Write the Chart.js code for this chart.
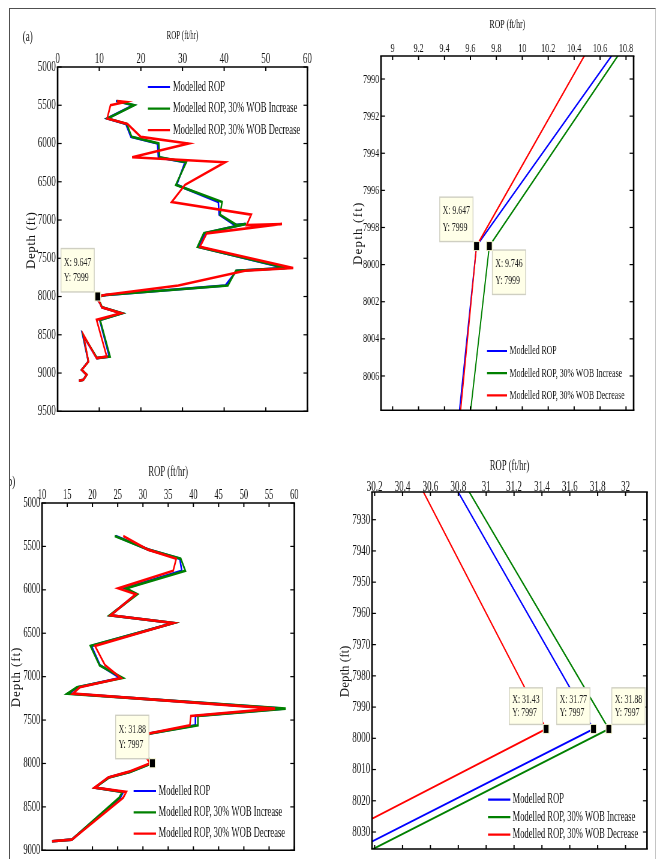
<!DOCTYPE html>
<html lang="en">

<head>
  <meta charset="UTF-8">
  <meta name="viewport" content="width=device-width, initial-scale=1.0">
  <title>Modelled ROP vs depth - WOB sensitivity</title>
  <script src="https://cdn.jsdelivr.net/npm/chart.js@4.4.1/dist/chart.umd.min.js"></script>
  <style>
    html, body { margin: 0; padding: 0; background: #fff; }
    body { width: 657px; height: 859px; position: relative; overflow: hidden; }
    #frame {
      position: absolute; left: 9px; top: 8px; width: 645px; height: 860px;
      border-top: 1px solid #505050; border-left: 1px solid #505050; border-right: 1px solid #c4c4c4;
      overflow: hidden;
    }
    /* the original figure is squeezed sideways, so everything is laid out wide and compressed */
    #wide {
      position: absolute; left: -10px; top: -9px; width: 1095px; height: 859px;
      transform: scaleX(0.6); transform-origin: 0 0;
    }
    #wide canvas { position: absolute; }
    .tag { position: absolute; font: 15px/15px 'Liberation Serif', 'Times New Roman', serif; color: #111; white-space: nowrap; }
  </style>
</head>

<body>
  <div id="frame">
    <div id="wide">
      <span class="tag" style="left:37.8px; top:29px">(a)</span>
      <span class="tag" style="left:8px; top:473.5px">(b)</span>
    </div>
  </div>

  <script>
    const SX = 0.6;
    const FONT = "'Liberation Serif', 'Times New Roman', serif";
    const INK = '#111';

    const seriesLabels = ['Modelled ROP', 'Modelled ROP, 30% WOB Increase', 'Modelled ROP, 30% WOB Decrease'];
    const seriesColors = ['#0000ff', '#008000', '#ff0000'];

    // case (a): depth (ft) and ROP (ft/hr)
    const depthA = [5444, 5457, 5500, 5673, 5745, 5913, 6000, 6180, 6245, 6540, 6765, 6930, 7066, 7053, 7174, 7349, 7628, 7662, 7855, 7979, 7999, 8019, 8090, 8140, 8218, 8305, 8784, 8805, 8500, 8849, 8958, 9023, 9088, 9101];
    const ropA = [14.0, 15.0, 18.2, 11.9, 16.4, 17.6, 24.0, 24.2, 30.6, 28.6, 38.6, 38.8, 42.6, 45.0, 35.4, 33.8, 54.6, 43.0, 40.3, 11.68, 9.647, 9.35, 10.2, 10.6, 15.4, 10.1, 12.4, 9.4, 6.0, 7.37, 5.77, 6.97, 6.16, 5.12];
    const ropIncA = [14.2, 15.2, 18.4, 12.0, 16.6, 17.8, 24.3, 24.5, 30.9, 28.4, 39.5, 39.0, 43.0, 45.3, 35.1, 33.6, 55.0, 42.8, 40.9, 11.68, 9.746, 9.42, 10.3, 10.7, 15.5, 10.2, 12.6, 9.5, 6.1, 7.4, 5.8, 7.0, 6.2, 5.15];
    const ropDecA = [14.3, 16.3, 12.7, 11.9, 16.8, 20.0, 31.4, 17.9, 40.2, 30.6, 27.4, 46.5, 45.4, 53.9, 35.8, 34.2, 56.6, 45.0, 29.0, 11.27, 9.647, 9.37, 10.2, 10.6, 15.2, 9.35, 11.8, 9.35, 6.2, 7.4, 5.8, 7.0, 6.2, 5.12];

    // case (b)
    const depthB = [5380, 5537, 5641, 5780, 5983, 6051, 6293, 6382, 6647, 6869, 7015, 7122, 7195, 7368, 7452, 7560, 7656, 7897, 7997, 8097, 8162, 8278, 8328, 8393, 8877, 8896];
    const ropB = [24.6, 31.1, 37.3, 37.7, 26.4, 28.7, 23.5, 36.0, 19.8, 21.5, 25.5, 17.1, 15.2, 57.6, 40.4, 40.4, 31.1, 30.49, 31.77, 27.36, 23.2, 20.5, 26.1, 25.5, 15.9, 12.0];
    const ropIncB = [24.4, 31.1, 37.5, 38.4, 26.6, 28.9, 23.4, 36.1, 19.6, 21.4, 26.0, 16.9, 15.0, 58.3, 40.9, 40.9, 31.2, 30.56, 31.88, 27.48, 23.3, 20.5, 25.9, 25.3, 15.9, 12.0];
    const ropDecB = [26.1, 31.0, 36.6, 36.0, 25.1, 28.6, 23.6, 36.0, 20.5, 22.5, 25.6, 17.5, 16.1, 56.2, 39.5, 39.3, 31.0, 30.27, 31.43, 27.09, 23.1, 20.4, 26.7, 26.1, 15.9, 12.0];

    // tick values
    const ropTicksA = [0, 10, 20, 30, 40, 50, 60];
    const depthTicksA = [5000, 5500, 6000, 6500, 7000, 7500, 8000, 8500, 9000, 9500];
    const ropTicksAz = [9, 9.2, 9.4, 9.6, 9.8, 10, 10.2, 10.4, 10.6, 10.8];
    const depthTicksAz = [7990, 7992, 7994, 7996, 7998, 8000, 8002, 8004, 8006];
    const ropTicksB = [10, 15, 20, 25, 30, 35, 40, 45, 50, 55, 60];
    const depthTicksB = [5000, 5500, 6000, 6500, 7000, 7500, 8000, 8500, 9000];
    const ropTicksBz = [30.2, 30.4, 30.6, 30.8, 31, 31.2, 31.4, 31.6, 31.8, 32];
    const depthTicksBz = [7930, 7940, 7950, 7960, 7970, 7980, 7990, 8000, 8010, 8020, 8030];

    // data tips
    const tipRopA = [9.647], tipDepthA = [7999];
    const tipRopAz = [9.647, 9.746], tipDepthAz = [7999, 7999];
    const tipRopB = [31.88], tipDepthB = [7997];
    const tipRopBz = [31.43, 31.77, 31.88], tipDepthBz = [7997, 7997, 7997];

    // layout is in page pixels (box = plot area left, top, right, bottom)
    const panels = [
      {
        name: 'a', box: [57.7, 66.7, 307.5, 411], xRange: [0, 60], yRange: [5000, 9500],
        depth: depthA, rop: [ropA, ropIncA, ropDecA], xTicks: ropTicksA, yTicks: depthTicksA,
        tipRop: tipRopA, tipDepth: tipDepthA, tipSide: ['ul'], tipGap: 15, tipPadY: 6.7,
        lineWidth: 2.6, tickSize: 15, tickPad: -0.6, titleSize: 11.5, titleY: 36,
        yTitle: { x: 31.5, y: 240, spacing: 0.6 },
        legend: { x: 148, y: 86.7, gap: 21.6, size: 14.4, len: 22, dx: 25 }
      },
      {
        name: 'az', box: [380.7, 55.7, 633.3, 410], xRange: [8.9105, 10.8586], yRange: [7988.76, 8007.85],
        depth: depthA, rop: [ropA, ropIncA, ropDecA], xTicks: ropTicksAz, yTicks: depthTicksAz,
        tipRop: tipRopAz, tipDepth: tipDepthAz, tipSide: ['ul', 'dr'], tipGap: 17, tipPadY: 5.2,
        lineWidth: 2, tickSize: 13.5, tickPad: -0.7, titleSize: 13, titleY: 24,
        yTitle: { x: 358.3, y: 233, spacing: 1.2 },
        legend: { x: 486.7, y: 350.7, gap: 22.2, size: 13, len: 20, dx: 22.6 }
      },
      {
        name: 'b', box: [41.7, 502.7, 294, 850], xRange: [10, 60], yRange: [5000, 9000],
        depth: depthB, rop: [ropB, ropIncB, ropDecB], xTicks: ropTicksB, yTicks: depthTicksB,
        tipRop: tipRopB, tipDepth: tipDepthB, tipSide: ['ul'], tipGap: 15, tipPadY: 6.7,
        lineWidth: 2.6, tickSize: 14, tickPad: -0.7, titleSize: 14.4, titleY: 471.7,
        yTitle: { x: 16, y: 676.7, spacing: 0.9 },
        legend: { x: 133.3, y: 790.7, gap: 21.3, size: 14.3, len: 22.4, dx: 25 }
      },
      {
        name: 'bz', box: [371.7, 492.3, 646.7, 849.3], xRange: [30.181, 32.154], yRange: [7921.13, 8035.44],
        depth: depthB, rop: [ropB, ropIncB, ropDecB], xTicks: ropTicksBz, yTicks: depthTicksBz,
        tipRop: tipRopBz, tipDepth: tipDepthBz, tipSide: ['ul', 'ul', 'ur'], tipGap: 13.3, tipPadY: 5,
        lineWidth: 2, tickSize: 15, tickPad: -4, titleSize: 14.4, titleY: 466.7,
        yTitle: { x: 345, y: 671.7, spacing: 0 },
        legend: { x: 487.7, y: 800, gap: 17.5, size: 14.2, len: 22.3, dx: 24.6 }
      }
    ];

    const fmt = v => String(Math.round(v * 1000) / 1000);

    function seg(ctx, x1, y1, x2, y2) {
      ctx.beginPath();
      ctx.moveTo(x1, y1);
      ctx.lineTo(x2, y2);
      ctx.stroke();
    }

    // axes box with inward ticks, legend, y label and data tips, matlab style
    function matlabLook(p, left, top) {
      const cx = x => (x - left) / SX;
      const cy = y => y - top;
      return {
        id: 'matlabLook',
        afterDatasetsDraw(chart) {
          const { ctx, chartArea: a, scales: { x, y } } = chart;
          ctx.save();
          ctx.strokeStyle = '#000';
          ctx.lineWidth = 1.2 / SX;
          p.xTicks.forEach(v => {
            const px = x.getPixelForValue(v);
            seg(ctx, px, a.top, px, a.top + 4);
            seg(ctx, px, a.bottom, px, a.bottom - 4);
          });
          ctx.lineWidth = 1.2;
          p.yTicks.forEach(v => {
            const py = y.getPixelForValue(v);
            seg(ctx, a.left, py, a.left + 4 / SX, py);
            seg(ctx, a.right, py, a.right - 4 / SX, py);
          });
          ctx.lineWidth = 1.6;
          seg(ctx, a.left - 1.4, a.top, a.right + 1.4, a.top);
          seg(ctx, a.left - 1.4, a.bottom, a.right + 1.4, a.bottom);
          ctx.lineWidth = 1.6 / SX;
          seg(ctx, a.left, a.top, a.left, a.bottom);
          seg(ctx, a.right, a.top, a.right, a.bottom);

          // legend
          const lg = p.legend;
          ctx.font = lg.size + 'px ' + FONT;
          ctx.textAlign = 'left';
          ctx.textBaseline = 'middle';
          seriesLabels.forEach((lab, k) => {
            const yy = cy(lg.y + k * lg.gap);
            ctx.strokeStyle = seriesColors[k];
            ctx.lineWidth = 2.2;
            seg(ctx, cx(lg.x), yy, cx(lg.x + lg.len), yy);
            ctx.fillStyle = INK;
            ctx.fillText(lab, cx(lg.x + lg.dx), yy);
          });

          // data tips
          ctx.font = '13px ' + FONT;
          p.tipRop.forEach((r, i) => {
            const d = p.tipDepth[i];
            const mx = x.getPixelForValue(r), my = y.getPixelForValue(d);
            const lines = ['X: ' + r, 'Y: ' + d];
            const w = Math.max(...lines.map(t => ctx.measureText(t).width)) + 10;
            const h = 2 * p.tipGap + 2 * p.tipPadY;
            const side = p.tipSide[i];
            const bx = side === 'ul' ? mx - 3.5 / SX - w : mx + 3 / SX;
            const by = side === 'dr' ? my + 4 : my - 4.5 - h;
            ctx.fillStyle = '#ffffe8';
            ctx.fillRect(bx, by, w, h);
            ctx.strokeStyle = '#cfcfc2';
            ctx.lineWidth = 1.4;
            ctx.strokeRect(bx, by, w, h);
            ctx.fillStyle = '#222';
            lines.forEach((t, j) => ctx.fillText(t, bx + 5, by + p.tipPadY + p.tipGap * (j + 0.5)));
            ctx.fillStyle = '#f0f0cc';
            ctx.fillRect(mx - 5.5, my - 5, 11, 10);
            ctx.fillStyle = '#000';
            ctx.fillRect(mx - 4, my - 4, 8, 8);
          });

          // rotated depth label, kept at full glyph height
          ctx.translate(cx(p.yTitle.x), cy(p.yTitle.y));
          ctx.scale(1 / SX, 1);
          ctx.rotate(-Math.PI / 2);
          ctx.font = '13px ' + FONT;
          if ('letterSpacing' in ctx) ctx.letterSpacing = p.yTitle.spacing + 'px';
          ctx.textAlign = 'center';
          ctx.fillStyle = INK;
          ctx.fillText('Depth (ft)', 0, 0);
          ctx.restore();
        }
      };
    }

    const wide = document.getElementById('wide');

    panels.forEach(p => {
      const [L, T, R, B] = p.box;
      const left = L - 54, top = T - 50;
      const cw = Math.round((R + 14 - left) / SX);
      const ch = Math.round(B + 14 - top);
      const canvas = document.createElement('canvas');
      canvas.width = cw;
      canvas.height = ch;
      canvas.style.left = (left / SX) + 'px';
      canvas.style.top = top + 'px';
      canvas.style.width = cw + 'px';
      canvas.style.height = ch + 'px';
      wide.appendChild(canvas);

      const tickFont = { family: FONT, size: p.tickSize };

      new Chart(canvas, {
        type: 'scatter',
        data: {
          datasets: p.rop.map((vals, k) => ({
            label: seriesLabels[k],
            data: p.depth.map((d, i) => ({ x: vals[i], y: d })),
            showLine: true,
            borderColor: seriesColors[k],
            backgroundColor: seriesColors[k],
            borderWidth: p.lineWidth,
            pointRadius: 0,
            order: 3 - k
          }))
        },
        options: {
          responsive: false,
          animation: false,
          devicePixelRatio: 1,
          events: [],
          layout: {
            padding: { left: 0, top: 0, right: cw - (54 + R - L) / SX, bottom: ch - (50 + B - T) }
          },
          plugins: { legend: { display: false }, tooltip: { enabled: false } },
          scales: {
            x: {
              type: 'linear', position: 'top', min: p.xRange[0], max: p.xRange[1], bounds: 'data',
              grid: { display: false, drawTicks: false }, border: { display: false },
              ticks: { font: tickFont, color: INK, padding: p.tickPad, maxRotation: 0, autoSkip: false, callback: v => fmt(v) },
              title: {
                display: true, text: 'ROP (ft/hr)', color: INK,
                font: { family: FONT, size: p.titleSize },
                padding: { top: p.titleY - top - 0.6 * p.titleSize, bottom: 0 }
              },
              afterBuildTicks: s => { s.ticks = p.xTicks.map(v => ({ value: v })); },
              afterFit: s => { s.height = 50; }
            },
            y: {
              type: 'linear', reverse: true, min: p.yRange[0], max: p.yRange[1], bounds: 'data',
              grid: { display: false, drawTicks: false }, border: { display: false },
              ticks: { font: tickFont, color: INK, padding: 3, autoSkip: false, callback: v => fmt(v) },
              afterBuildTicks: s => { s.ticks = p.yTicks.map(v => ({ value: v })); },
              afterFit: s => { s.width = 54 / SX; }
            }
          }
        },
        plugins: [matlabLook(p, left, top)]
      });
    });
  </script>
</body>

</html>
